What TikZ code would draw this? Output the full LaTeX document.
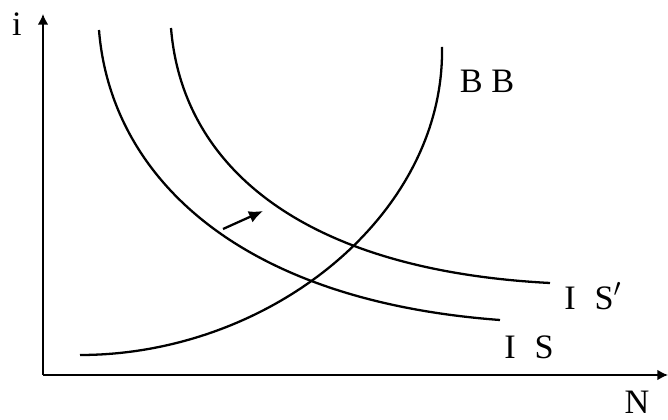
\documentclass[tikz,border=0pt]{standalone}
\usepackage{fontspec}
\setmainfont{Liberation Serif}
\usetikzlibrary{arrows.meta}
\tikzset{curve/.style={line width=1.3pt}, axis/.style={line width=0.9pt,-{Latex[length=6pt,width=6pt]}}, lbl/.style={font=\fontsize{19.5}{23}\selectfont}}

\begin{document}
\begin{tikzpicture}
	\useasboundingbox (0,0) rectangle (13.36,8.4);
	\coordinate (O) at (0.86,0.9);
	\coordinate (ytop) at (0.86,8.12);
	\coordinate (xend) at (13.36,0.9);
	\draw[axis] (O) to (ytop);
	\draw[axis] (O) to (xend);

	\coordinate (ISa) at (1.98,7.8);
	\coordinate (ISb) at (10.0,2.0);
	\coordinate (IPa) at (3.42,7.84);
	\coordinate (IPb) at (11.0,2.74);
	\coordinate (BBa) at (1.6,1.3);
	\coordinate (BBb) at (8.84,7.46);
	\draw[curve] (ISa) .. controls (2.2,5.0) and (4.6,2.4) .. (ISb);
	\draw[curve] (IPa) .. controls (3.64,5.1) and (6.0,3.0) .. (IPb);
	\draw[curve] (BBa) .. controls (5.4,1.3) and (8.9,4.1) .. (BBb);

	\coordinate (shfrom) at (4.46,3.82);
	\coordinate (shto) at (5.26,4.18);
	\draw[line width=1.3pt,-{Latex[length=8pt,width=7pt]}] (shfrom) to (shto);

	\node[lbl] (i) at (0.34,7.92) {i};
	\node[lbl] (N) at (12.74,0.36) {N};
	\node[lbl] (BB) at (9.74,6.78) {B B};
	\node[lbl] (ISp) at (11.86,2.48) {I\hspace{0.55em}S$'$};
	\node[lbl] (IS) at (10.58,1.46) {I\hspace{0.55em}S};
\end{tikzpicture}
\end{document}
